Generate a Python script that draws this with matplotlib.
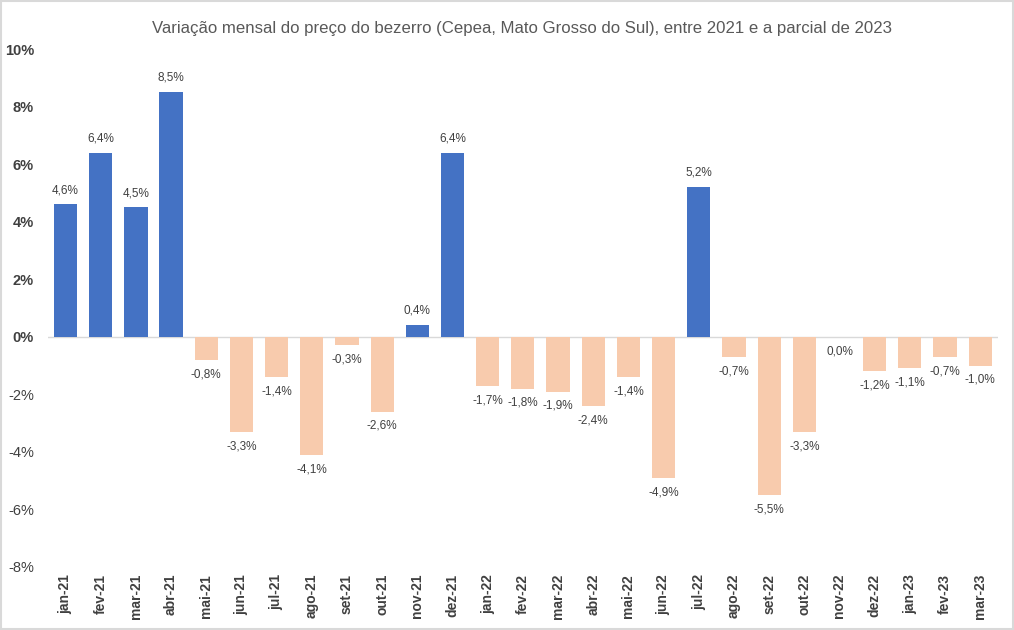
import numpy as np
import matplotlib.pyplot as plt
from matplotlib.patches import Rectangle

plt.rcParams['font.family'] = ['Liberation Sans', 'DejaVu Sans']

# monthly change of calf price (%)
months = ['jan-21', 'fev-21', 'mar-21', 'abr-21', 'mai-21', 'jun-21', 'jul-21',
          'ago-21', 'set-21', 'out-21', 'nov-21', 'dez-21',
          'jan-22', 'fev-22', 'mar-22', 'abr-22', 'mai-22', 'jun-22', 'jul-22',
          'ago-22', 'set-22', 'out-22', 'nov-22', 'dez-22',
          'jan-23', 'fev-23', 'mar-23']
values = [4.6, 6.4, 4.5, 8.5, -0.8, -3.3, -1.4, -4.1, -0.3, -2.6, 0.4, 6.4,
          -1.7, -1.8, -1.9, -2.4, -1.4, -4.9, 5.2, -0.7, -5.5, -3.3, 0.0, -1.2,
          -1.1, -0.7, -1.0]
yticks = [-8, -6, -4, -2, 0, 2, 4, 6, 8, 10]

pos_color = '#4472C4'
neg_color = '#F8CBAD'
txt = '#404040'

fig = plt.figure(figsize=(10.14, 6.3), dpi=100)
ax = fig.add_axes([0.0473, 0.1, 0.9367, 0.822])

x = np.arange(len(values))
colors = [pos_color if v > 0 else neg_color for v in values]
ax.bar(x, values, width=0.66, color=colors, zorder=2)
ax.axhline(0, color='#D9D9D9', lw=1, zorder=1)

for xi, v in zip(x, values):
    lab = f'{v:.1f}%'.replace('.', ',')
    if v > 0:
        ax.annotate(lab, (xi, v), xytext=(0, 6), textcoords='offset points',
                    ha='center', va='bottom', fontsize=8.5, color=txt)
    else:
        ax.annotate(lab, (xi, v), xytext=(0, -6), textcoords='offset points',
                    ha='center', va='top', fontsize=8.5, color=txt)

ax.set_xlim(-0.5, len(values) - 0.5)
ax.set_ylim(-8, 10)
ax.set_yticks(yticks)
ax.set_yticklabels([f'{t}%' for t in yticks])
for t, lbl in zip(yticks, ax.get_yticklabels()):
    lbl.set_fontweight('bold' if t >= 0 else 'normal')
    lbl.set_fontsize(10.5)
    lbl.set_color(txt)
ax.tick_params(axis='y', length=0, pad=10)

ax.set_xticks(x)
ax.set_xticklabels(months, rotation=90, fontsize=10, fontweight='bold', color=txt)
ax.tick_params(axis='x', length=0, pad=5)

for s in ax.spines.values():
    s.set_visible(False)

fig.text(0.515, 0.955, 'Variação mensal do preço do bezerro (Cepea, Mato Grosso do Sul), entre 2021 e a parcial de 2023',
         ha='center', va='center', fontsize=12.1, color='#595959')

fig.patches.append(Rectangle((0.001, 0.001), 0.998, 0.998, transform=fig.transFigure,
                             fill=False, edgecolor='#D9D9D9', lw=1.5))

fig.savefig('out.png', dpi=100)
